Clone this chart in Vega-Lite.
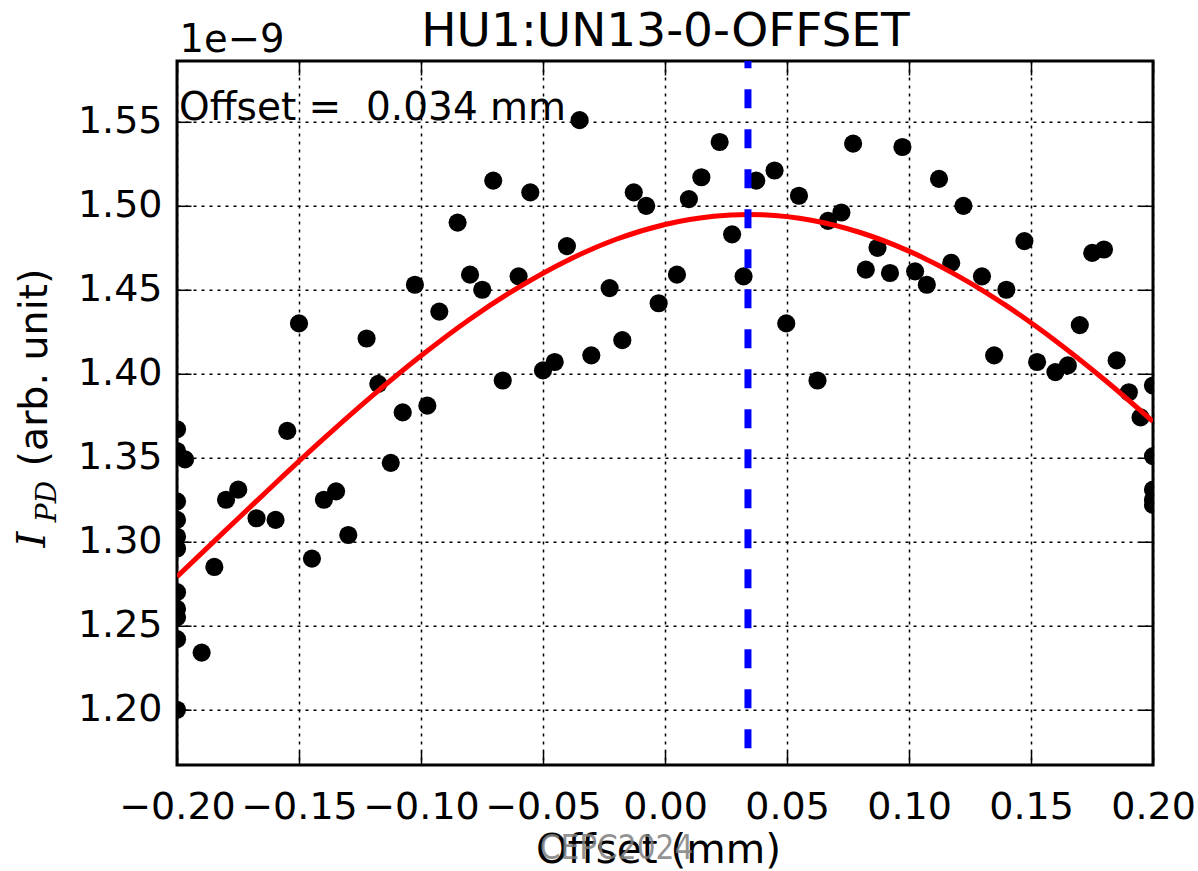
{
  "$schema": "https://vega.github.io/schema/vega-lite/v6.json",
  "width": 976,
  "height": 704,
  "autosize": {"type": "none"},
  "padding": {"left": 177, "top": 61, "right": 45, "bottom": 106},
  "background": "white",
  "datasets": {
    "scan": [
      {"offset_mm": -0.2, "ipd": 1.367}, {"offset_mm": -0.2, "ipd": 1.354}, {"offset_mm": -0.2, "ipd": 1.324},
      {"offset_mm": -0.2, "ipd": 1.313}, {"offset_mm": -0.2, "ipd": 1.303}, {"offset_mm": -0.2, "ipd": 1.296},
      {"offset_mm": -0.2, "ipd": 1.270}, {"offset_mm": -0.2, "ipd": 1.260}, {"offset_mm": -0.2, "ipd": 1.255},
      {"offset_mm": -0.2, "ipd": 1.242}, {"offset_mm": -0.2, "ipd": 1.200},
      {"offset_mm": -0.1967, "ipd": 1.349}, {"offset_mm": -0.1899, "ipd": 1.234}, {"offset_mm": -0.1847, "ipd": 1.285},
      {"offset_mm": -0.1799, "ipd": 1.325}, {"offset_mm": -0.1749, "ipd": 1.331}, {"offset_mm": -0.1674, "ipd": 1.314},
      {"offset_mm": -0.1596, "ipd": 1.313}, {"offset_mm": -0.1548, "ipd": 1.366}, {"offset_mm": -0.15, "ipd": 1.430},
      {"offset_mm": -0.1447, "ipd": 1.290}, {"offset_mm": -0.1398, "ipd": 1.325}, {"offset_mm": -0.1348, "ipd": 1.330},
      {"offset_mm": -0.1298, "ipd": 1.304}, {"offset_mm": -0.1223, "ipd": 1.421}, {"offset_mm": -0.1175, "ipd": 1.394},
      {"offset_mm": -0.1124, "ipd": 1.347}, {"offset_mm": -0.1075, "ipd": 1.377}, {"offset_mm": -0.1025, "ipd": 1.453},
      {"offset_mm": -0.0974, "ipd": 1.381}, {"offset_mm": -0.0925, "ipd": 1.437}, {"offset_mm": -0.085, "ipd": 1.490},
      {"offset_mm": -0.0799, "ipd": 1.459}, {"offset_mm": -0.0749, "ipd": 1.450}, {"offset_mm": -0.0704, "ipd": 1.515},
      {"offset_mm": -0.0665, "ipd": 1.396}, {"offset_mm": -0.06, "ipd": 1.458}, {"offset_mm": -0.0552, "ipd": 1.508},
      {"offset_mm": -0.05, "ipd": 1.402}, {"offset_mm": -0.0452, "ipd": 1.407}, {"offset_mm": -0.0402, "ipd": 1.476},
      {"offset_mm": -0.035, "ipd": 1.551}, {"offset_mm": -0.0302, "ipd": 1.411}, {"offset_mm": -0.0227, "ipd": 1.451},
      {"offset_mm": -0.0175, "ipd": 1.420}, {"offset_mm": -0.0128, "ipd": 1.508}, {"offset_mm": -0.0077, "ipd": 1.500},
      {"offset_mm": -0.0026, "ipd": 1.442}, {"offset_mm": 0.0049, "ipd": 1.459}, {"offset_mm": 0.0098, "ipd": 1.504},
      {"offset_mm": 0.0149, "ipd": 1.517}, {"offset_mm": 0.0224, "ipd": 1.538}, {"offset_mm": 0.0275, "ipd": 1.483},
      {"offset_mm": 0.0322, "ipd": 1.458}, {"offset_mm": 0.0374, "ipd": 1.515}, {"offset_mm": 0.0449, "ipd": 1.521},
      {"offset_mm": 0.0497, "ipd": 1.430}, {"offset_mm": 0.0549, "ipd": 1.506}, {"offset_mm": 0.0625, "ipd": 1.396},
      {"offset_mm": 0.0668, "ipd": 1.491}, {"offset_mm": 0.0723, "ipd": 1.496}, {"offset_mm": 0.0771, "ipd": 1.537},
      {"offset_mm": 0.0823, "ipd": 1.462}, {"offset_mm": 0.0871, "ipd": 1.475}, {"offset_mm": 0.0922, "ipd": 1.460},
      {"offset_mm": 0.0973, "ipd": 1.535}, {"offset_mm": 0.1025, "ipd": 1.461}, {"offset_mm": 0.1073, "ipd": 1.453},
      {"offset_mm": 0.1123, "ipd": 1.516}, {"offset_mm": 0.1173, "ipd": 1.466}, {"offset_mm": 0.1223, "ipd": 1.500},
      {"offset_mm": 0.1299, "ipd": 1.458}, {"offset_mm": 0.1349, "ipd": 1.411}, {"offset_mm": 0.1399, "ipd": 1.450},
      {"offset_mm": 0.1473, "ipd": 1.479}, {"offset_mm": 0.1525, "ipd": 1.407}, {"offset_mm": 0.16, "ipd": 1.401},
      {"offset_mm": 0.1651, "ipd": 1.405}, {"offset_mm": 0.17, "ipd": 1.429}, {"offset_mm": 0.1751, "ipd": 1.472},
      {"offset_mm": 0.1799, "ipd": 1.474}, {"offset_mm": 0.1851, "ipd": 1.408}, {"offset_mm": 0.1901, "ipd": 1.389},
      {"offset_mm": 0.1949, "ipd": 1.374},
      {"offset_mm": 0.2, "ipd": 1.393}, {"offset_mm": 0.2, "ipd": 1.351}, {"offset_mm": 0.2, "ipd": 1.331},
      {"offset_mm": 0.2, "ipd": 1.325}, {"offset_mm": 0.2, "ipd": 1.322}
    ],
    "fit": [
      {"offset_mm": -0.2, "ipd": 1.2792}, {"offset_mm": -0.18, "ipd": 1.3069}, {"offset_mm": -0.16, "ipd": 1.3344},
      {"offset_mm": -0.14, "ipd": 1.3612}, {"offset_mm": -0.12, "ipd": 1.3868}, {"offset_mm": -0.1, "ipd": 1.4107},
      {"offset_mm": -0.08, "ipd": 1.4325}, {"offset_mm": -0.06, "ipd": 1.4515}, {"offset_mm": -0.04, "ipd": 1.4675},
      {"offset_mm": -0.02, "ipd": 1.4801}, {"offset_mm": 0.0, "ipd": 1.4889}, {"offset_mm": 0.02, "ipd": 1.4938},
      {"offset_mm": 0.034, "ipd": 1.4948}, {"offset_mm": 0.04, "ipd": 1.4946}, {"offset_mm": 0.06, "ipd": 1.4914},
      {"offset_mm": 0.08, "ipd": 1.4841}, {"offset_mm": 0.1, "ipd": 1.4730}, {"offset_mm": 0.12, "ipd": 1.4583},
      {"offset_mm": 0.14, "ipd": 1.4404}, {"offset_mm": 0.16, "ipd": 1.4197}, {"offset_mm": 0.18, "ipd": 1.3966},
      {"offset_mm": 0.2, "ipd": 1.3716}
    ],
    "center": [
      {"offset_mm": 0.034, "label": "Offset = \u00a00.034 mm"}
    ]
  },
  "config": {
    "font": "DejaVu Sans",
    "view": {"stroke": "black", "strokeWidth": 3},
    "axis": {
      "domain": false,
      "grid": false,
      "tickColor": "black",
      "tickWidth": 1.5,
      "tickSize": -14,
      "tickRound": false,
      "labelFont": "DejaVu Sans",
      "labelFontSize": 38,
      "labelColor": "black",
      "labelOverlap": false,
      "labelFlush": false,
      "labelBound": false,
      "titleFont": "DejaVu Sans",
      "titleFontSize": 40,
      "titleFontWeight": "normal",
      "titleColor": "black",
      "gridColor": "black",
      "gridDash": [3, 5],
      "gridWidth": 1.5,
      "gridOpacity": 1
    }
  },
  "resolve": {"axis": {"x": "independent", "y": "independent"}},
  "layer": [
    {
      "data": {"name": "scan"},
      "mark": {"type": "circle", "color": "black", "size": 330, "opacity": 1, "clip": true},
      "encoding": {
        "x": {
          "field": "offset_mm", "type": "quantitative",
          "scale": {"domain": [-0.2, 0.2], "nice": false, "zero": false},
          "axis": {
            "orient": "bottom",
            "values": [-0.2, -0.15, -0.1, -0.05, 0, 0.05, 0.1, 0.15, 0.2],
            "format": ".2f", "grid": true, "labelPadding": 37,
            "title": "Offset (mm)", "titleFontSize": 40.5, "titleX": 481, "titleY": 97,
            "titleAlign": "center", "titleBaseline": "alphabetic"
          }
        },
        "y": {
          "field": "ipd", "type": "quantitative",
          "scale": {"domain": [1.1671, 1.5862], "nice": false, "zero": false},
          "axis": {
            "orient": "left",
            "values": [1.2, 1.25, 1.3, 1.35, 1.4, 1.45, 1.5, 1.55],
            "format": ".2f", "grid": true, "labelPadding": 29,
            "title": "(arb. unit)", "titleFontSize": 39.5, "titleX": -131, "titleY": 306, "titleAngle": 270,
            "titleAlign": "center", "titleBaseline": "alphabetic"
          }
        }
      }
    },
    {
      "data": {"name": "fit"},
      "mark": {"type": "line", "color": "red", "strokeWidth": 5, "interpolate": "monotone", "clip": true},
      "encoding": {
        "x": {
          "field": "offset_mm", "type": "quantitative",
          "scale": {"domain": [-0.2, 0.2], "nice": false, "zero": false},
          "axis": {
            "orient": "top",
            "values": [-0.2, -0.15, -0.1, -0.05, 0, 0.05, 0.1, 0.15, 0.2],
            "labels": false,
            "title": "1e−9", "titleFontSize": 38.5, "titleX": 2, "titleY": -10, "titleAngle": 0,
            "titleAlign": "left", "titleBaseline": "alphabetic"
          }
        },
        "y": {
          "field": "ipd", "type": "quantitative",
          "scale": {"domain": [1.1671, 1.5862], "nice": false, "zero": false},
          "axis": {
            "orient": "right",
            "values": [1.2, 1.25, 1.3, 1.35, 1.4, 1.45, 1.5, 1.55],
            "labels": false, "title": null
          }
        }
      }
    },
    {
      "data": {"name": "center"},
      "mark": {"type": "rule", "color": "#0000ff", "strokeWidth": 7, "strokeDash": [19, 21], "clip": true},
      "encoding": {
        "x": {
          "field": "offset_mm", "type": "quantitative",
          "scale": {"domain": [-0.2, 0.2], "nice": false, "zero": false},
          "axis": {
            "orient": "top", "ticks": false, "labels": false,
            "title": "HU1:UN13-0-OFFSET", "titleFontSize": 47,
            "titleX": 488, "titleY": -16, "titleAngle": 0,
            "titleAlign": "center", "titleBaseline": "alphabetic"
          }
        },
        "y": {
          "datum": 1.177, "type": "quantitative",
          "scale": {"domain": [1.1671, 1.5862], "nice": false, "zero": false},
          "axis": {
            "orient": "left", "ticks": false, "labels": false,
            "title": "I", "titleFont": "DejaVu Serif", "titleFontStyle": "italic", "titleFontSize": 40,
            "titleX": -133, "titleY": 478, "titleAngle": 270,
            "titleAlign": "center", "titleBaseline": "alphabetic"
          }
        },
        "y2": {"datum": 1.5862}
      }
    },
    {
      "data": {"name": "center"},
      "mark": {"type": "text", "align": "left", "baseline": "alphabetic", "font": "DejaVu Sans", "fontSize": 39, "color": "black", "dx": 2},
      "encoding": {
        "text": {"field": "label"},
        "x": {
          "datum": -0.2, "type": "quantitative",
          "scale": {"domain": [-0.2, 0.2], "nice": false, "zero": false},
          "axis": {
            "orient": "bottom", "ticks": false, "labels": false, "zindex": 1,
            "title": "CEPC2024", "titleFont": "Liberation Sans Narrow, DejaVu Sans Condensed, DejaVu Sans",
            "titleFontSize": 33, "titleColor": "#7f7f7f", "titleOpacity": 0.85,
            "titleX": 439, "titleY": 93, "titleAlign": "center", "titleBaseline": "alphabetic"
          }
        },
        "y": {
          "datum": 1.551, "type": "quantitative",
          "scale": {"domain": [1.1671, 1.5862], "nice": false, "zero": false},
          "axis": {
            "orient": "left", "ticks": false, "labels": false,
            "title": "PD", "titleFont": "DejaVu Serif", "titleFontStyle": "italic", "titleFontSize": 28,
            "titleX": -122, "titleY": 440, "titleAngle": 270,
            "titleAlign": "center", "titleBaseline": "alphabetic"
          }
        }
      }
    }
  ]
}
